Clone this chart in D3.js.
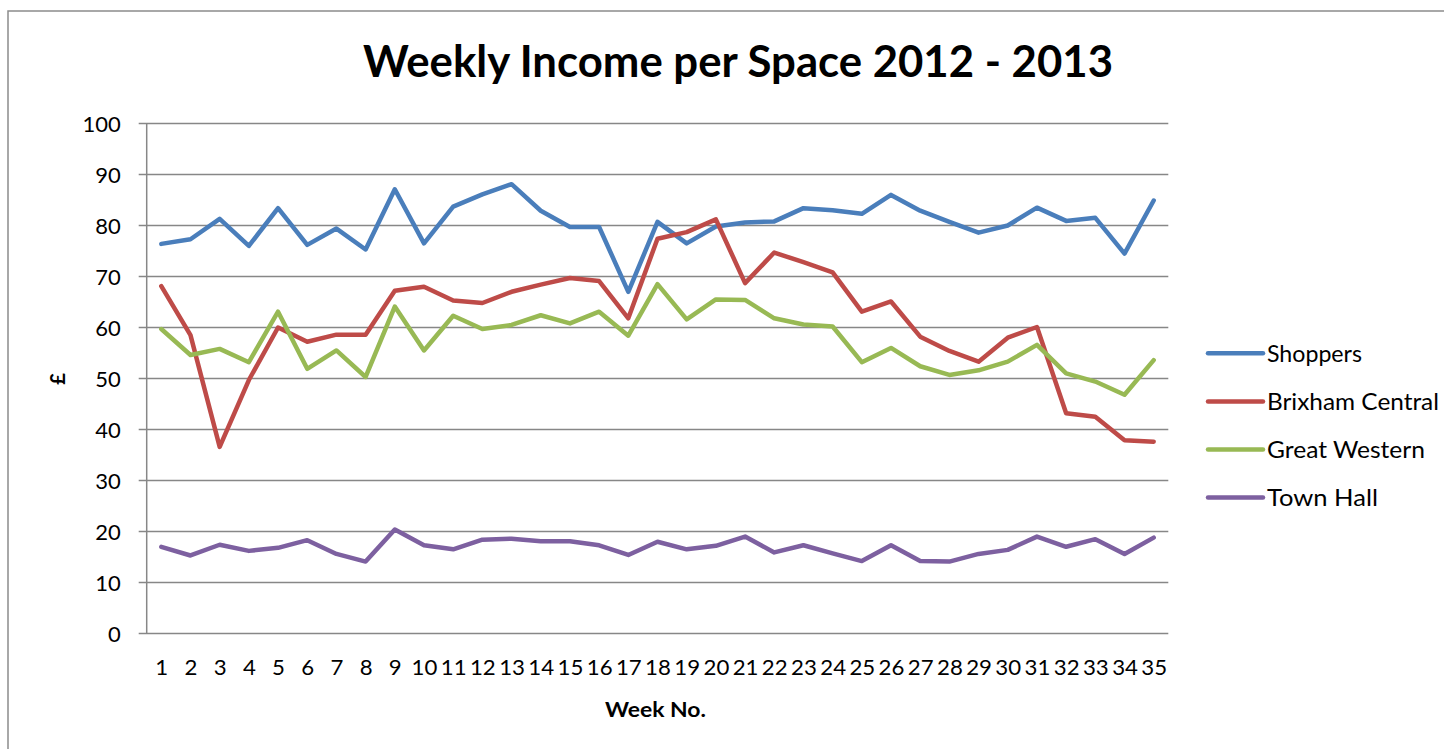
<!DOCTYPE html>
<html>
<head>
<meta charset="utf-8">
<script src="https://cdn.jsdelivr.net/npm/d3@7"></script>
<style>
  html, body { margin: 0; padding: 0; background: #fff; }
  svg { display: block; }
  text { font-family: Lato, "Open Sans", sans-serif; fill: #000; }
</style>
</head>
<body>
<script>
const weeks = d3.range(1, 36).map(String);
const shoppers = [76.4,77.3,81.3,76.0,83.4,76.2,79.4,75.3,87.1,76.5,83.7,86.1,88.1,82.9,79.7,79.7,67.0,80.7,76.5,79.8,80.6,80.8,83.4,83.0,82.3,86.0,82.9,80.7,78.6,80.0,83.5,80.9,81.5,74.5,84.9];
const brixham = [68.1,58.5,36.6,49.7,60.0,57.2,58.6,58.6,67.2,68.0,65.3,64.8,67.0,68.4,69.7,69.1,61.8,77.4,78.7,81.2,68.7,74.7,72.8,70.8,63.1,65.1,58.2,55.4,53.3,58.0,60.1,43.2,42.5,37.9,37.6];
const greatWestern = [59.7,54.6,55.8,53.2,63.1,51.9,55.5,50.3,64.1,55.5,62.3,59.7,60.5,62.4,60.8,63.1,58.4,68.5,61.6,65.5,65.4,61.8,60.6,60.2,53.2,56.0,52.4,50.7,51.6,53.3,56.6,51.0,49.4,46.8,53.6];
const townHall = [17.0,15.3,17.4,16.2,16.8,18.3,15.6,14.1,20.4,17.3,16.5,18.4,18.6,18.1,18.1,17.3,15.4,18.0,16.5,17.2,19.0,15.9,17.3,15.7,14.2,17.3,14.2,14.1,15.6,16.4,19.0,17.0,18.5,15.6,18.8];
const seriesNames = ["Shoppers", "Brixham Central", "Great Western", "Town Hall"];
const seriesColors = ["#4A7EBB", "#BE4B48", "#98B954", "#7D60A0"];
const yTicks = [0,10,20,30,40,50,60,70,80,90,100];
const title = "Weekly Income per Space 2012 - 2013";
const xTitle = "Week No.";
const yTitle = "£";

const W = 1444, H = 749;
const svg = d3.select("body").append("svg").attr("width", W).attr("height", H);

// outer chart border
svg.append("rect").attr("x", 8).attr("y", 11).attr("width", W + 20).attr("height", H + 20)
  .attr("fill", "none").attr("stroke", "#8c8c8c").attr("stroke-width", 1.5);

const plot = { left: 146.7, right: 1168.3, top: 123.5, bottom: 633.5 };
const x = d3.scalePoint().domain(weeks).range([plot.left, plot.right]).padding(0.5);
const y = d3.scaleLinear().domain([0, 100]).range([plot.bottom, plot.top]);

// gridlines
svg.append("g").selectAll("line").data(yTicks).join("line")
  .attr("x1", plot.left - 8).attr("x2", plot.right)
  .attr("y1", d => y(d)).attr("y2", d => y(d))
  .attr("stroke", "#878787").attr("stroke-width", 1.5);

// y axis line
svg.append("line").attr("x1", plot.left).attr("x2", plot.left)
  .attr("y1", plot.top).attr("y2", plot.bottom)
  .attr("stroke", "#878787").attr("stroke-width", 1.5);

// y tick labels
const yAxis = d3.axisLeft(y).tickValues(yTicks).tickSize(0).tickPadding(0);
const gy = svg.append("g").attr("transform", `translate(${plot.left - 26},0)`).call(yAxis);
gy.select(".domain").remove();
gy.selectAll("text").attr("font-family", "Lato, sans-serif").attr("font-size", 22)
  .attr("fill", "#000").attr("dy", "0.36em");

// x tick labels
const xAxis = d3.axisBottom(x).tickSize(0).tickPadding(0);
const gx = svg.append("g").attr("transform", `translate(0,${plot.bottom + 26})`).call(xAxis);
gx.select(".domain").remove();
gx.selectAll("text").attr("font-family", "Lato, sans-serif").attr("font-size", 22)
  .attr("fill", "#000").attr("dy", "0.71em")
  .attr("textLength", d => d.length * 12.9).attr("lengthAdjust", "spacingAndGlyphs");

// lines
const allSeries = [shoppers, brixham, greatWestern, townHall];
const line = d3.line().x((d, i) => x(weeks[i])).y(d => y(d));
svg.append("g").selectAll("path").data(allSeries).join("path")
  .attr("d", line)
  .attr("fill", "none")
  .attr("stroke", (d, i) => seriesColors[i])
  .attr("stroke-width", 4.5)
  .attr("stroke-linejoin", "round")
  .attr("stroke-linecap", "round");

// title
svg.append("text").attr("x", 738).attr("y", 77).attr("text-anchor", "middle")
  .attr("font-size", 44).attr("font-weight", "bold")
  .attr("textLength", 750).attr("lengthAdjust", "spacingAndGlyphs")
  .text(title);

// axis titles
svg.append("text").attr("x", 655.5).attr("y", 717).attr("text-anchor", "middle")
  .attr("font-size", 20).attr("font-weight", "bold")
  .attr("textLength", 101).attr("lengthAdjust", "spacingAndGlyphs")
  .text(xTitle);
svg.append("text").attr("transform", "translate(65,379) rotate(-90)")
  .attr("text-anchor", "middle").attr("font-size", 20).attr("font-weight", "bold")
  .text(yTitle);

// legend
const legend = svg.append("g").selectAll("g").data(seriesNames).join("g")
  .attr("transform", (d, i) => `translate(1208,${353.3 + i * 48.1})`);
legend.append("line").attr("x1", 0).attr("x2", 55).attr("y1", 0).attr("y2", 0)
  .attr("stroke", (d, i) => seriesColors[i]).attr("stroke-width", 4.5).attr("stroke-linecap", "round");
const legendWidths = [95, 172, 158, 111];
legend.append("text").attr("x", 59).attr("y", 0).attr("dy", "0.36em")
  .attr("font-size", 23)
  .attr("textLength", (d, i) => legendWidths[i]).attr("lengthAdjust", "spacingAndGlyphs")
  .text(d => d);
</script>
</body>
</html>
